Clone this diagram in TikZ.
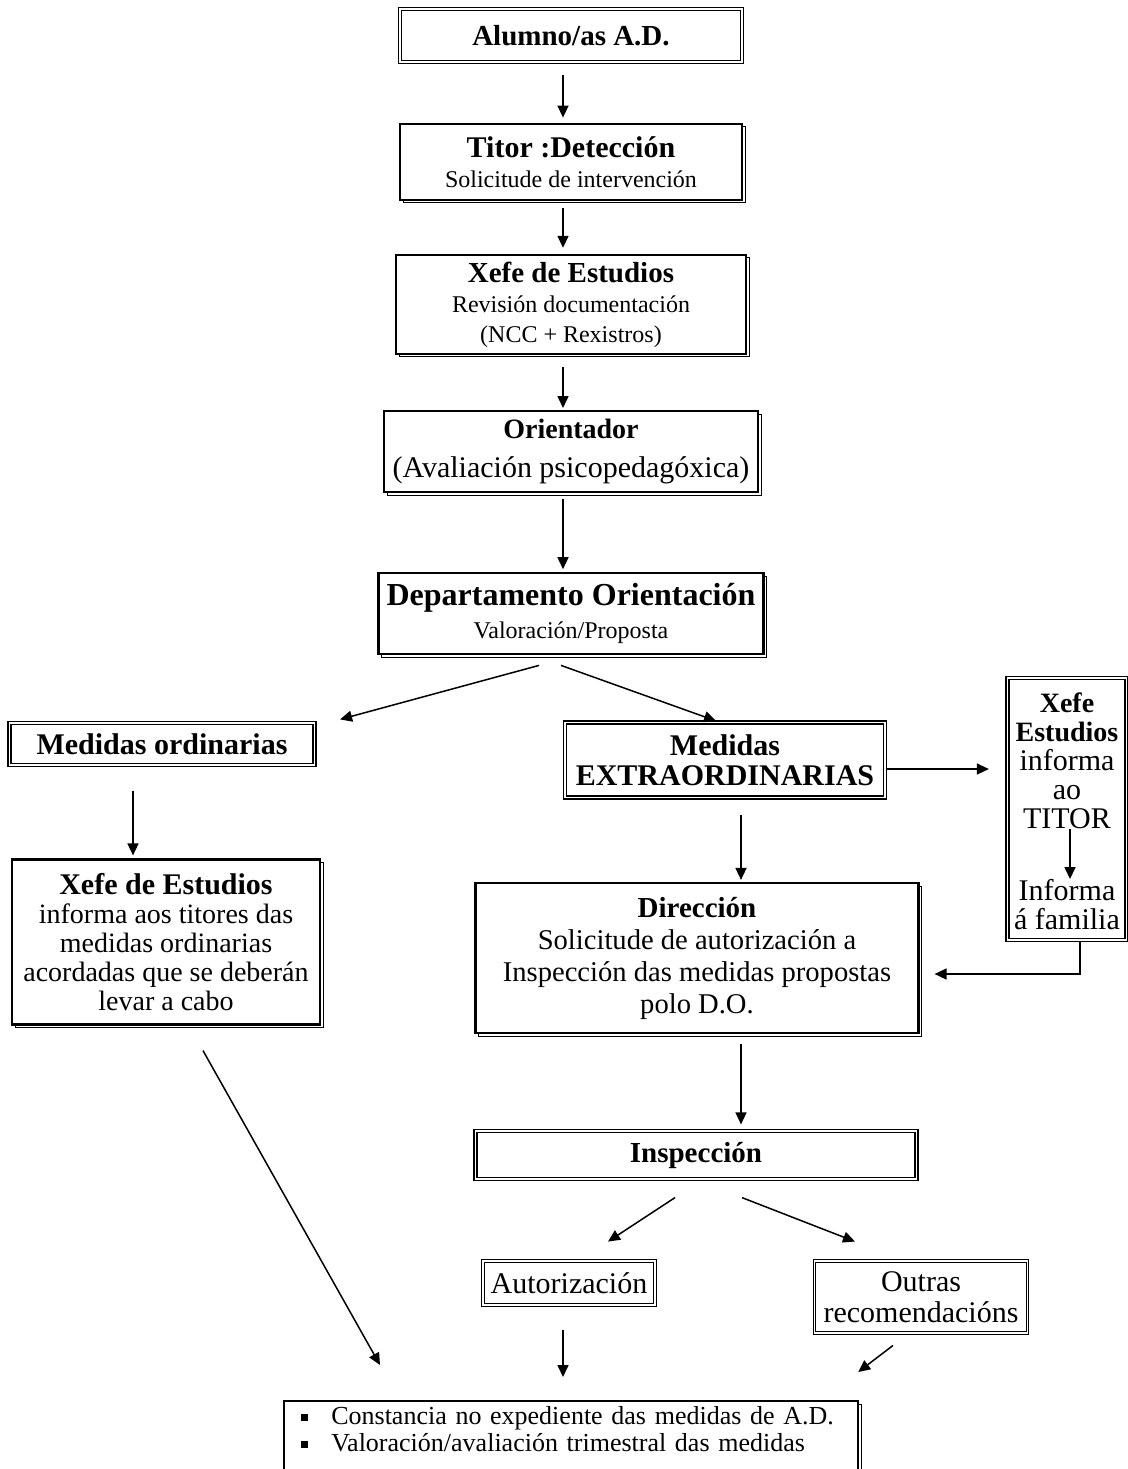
\documentclass[tikz,border=0pt]{standalone}
\usepackage{fontspec}
\setmainfont{Liberation Serif}
\usetikzlibrary{positioning, arrows.meta, calc}

\newcommand\titfont{\fontsize{14.5}{16}\selectfont\bfseries}
\newcommand\sqb{\rule[1.5pt]{3.6pt}{3.6pt}}

\begin{document}
\begin{tikzpicture}[
    x=0.5pt, y=-0.5pt,
    >={Triangle[length=6pt,width=5.5pt]},
    line width=0.75pt,
    box/.style={
        fill=white,
        align=center,
        inner sep=1pt,
        font=\fontsize{12}{15}\selectfont
    },
    dblbox/.style={box, draw, double, line width=0.6pt, double distance=0.9pt},
    thinbox/.style={box, draw, double, line width=0.45pt, double distance=0.8pt},
    shdbox/.style={box, draw, line width=1.1pt,
        preaction={draw, line width=0.5pt,
            transform canvas={shift={(1.5pt,-1.5pt)}}}},
    txt/.style={align=center, inner sep=0pt, font=\fontsize{15}{14.5}\selectfont}
]
    \useasboundingbox[fill=white] (0,0) rectangle (1128,1469);

    % Main column
    \node[dblbox, minimum width=171pt, minimum height=26.5pt, font=\titfont] (alumno) at (571,35.5) {Alumno/as A.D.};
    \node[shdbox, below=30pt of alumno, minimum width=171pt, minimum height=38pt] (titor)
        {{\fontsize{15}{16}\selectfont\bfseries Titor :Detección}\\Solicitude de intervención};
    \node[shdbox, below=26.5pt of titor, minimum width=175pt, minimum height=49.5pt] (xefe)
        {{\titfont Xefe de Estudios}\\Revisión documentación\\ (NCC + Rexistros)};
    \node[shdbox, below=27.5pt of xefe, minimum width=187pt, minimum height=40.5pt,
        font=\fontsize{15}{19.5}\selectfont] (orient)
        {{\fontsize{14}{16}\selectfont\bfseries Orientador}\\(Avaliación psicopedagóxica)};
    \node[shdbox, below=39.5pt of orient, minimum width=192.5pt, minimum height=40.5pt,
        font=\fontsize{12}{16.5}\selectfont] (depto)
        {{\fontsize{16}{17}\selectfont\bfseries Departamento Orientación}\\Valoración/Proposta};

    % Ordinary / extraordinary branches
    \node[dblbox, minimum width=152.5pt, minimum height=21pt,
        font=\fontsize{15}{17}\selectfont\bfseries] (ordin) at (162,744) {Medidas ordinarias};
    \node[dblbox, minimum width=160pt, minimum height=37.5pt,
        font=\fontsize{15}{15}\selectfont\bfseries] (extra) at (725,760) {Medidas\\EXTRAORDINARIAS};

    \node[dblbox, minimum width=59.5pt, minimum height=131pt] (xefeR) at (1067,809) {};
    \node[txt] (xR1) at (1067,760.5)
        {{\fontsize{14}{14.5}\selectfont\bfseries Xefe}\\{\fontsize{14}{14.5}\selectfont\bfseries Estudios}\\informa\\ao\\TITOR};
    \node[txt] (xR2) at (1067,905) {Informa\\á familia};

    \node[shdbox, minimum width=154pt, minimum height=82.5pt,
        font=\fontsize{14}{14.4}\selectfont] (xefeL) at (166,942)
        {{\fontsize{15}{16}\selectfont\bfseries Xefe de Estudios}\\informa aos titores das\\medidas ordinarias\\acordadas que se deberán\\levar a cabo};
    \node[shdbox, minimum width=221.5pt, minimum height=75pt,
        font=\fontsize{14.3}{16}\selectfont] (direc) at (697,958)
        {{\titfont Dirección}\\Solicitude de autorización a\\Inspección das medidas propostas\\polo D.O.};

    \node[dblbox, minimum width=220.5pt, minimum height=24pt, font=\titfont] (insp) at (696,1155) {Inspección};
    \node[thinbox, minimum width=86pt, minimum height=22pt,
        font=\fontsize{15}{15.5}\selectfont] (autor) at (569,1283) {Autorización};
    \node[thinbox, minimum width=106.5pt, minimum height=36pt,
        font=\fontsize{15}{15.5}\selectfont] (outras) at (921,1297) {Outras\\recomendacións};

    \node[shdbox, anchor=north west, inner xsep=8.5pt, inner ysep=2pt, text width=270pt, align=left,
        font=\fontsize{13}{13.5}\selectfont] (final) at (283,1400)
        {\begin{tabular}{@{}l@{\hspace{11.5pt}}l@{}}
            \sqb & Constancia no expediente das medidas de A.D.\\
            \sqb & Valoración/avaliación trimestral das medidas\\
            \rule{0pt}{20pt} &
        \end{tabular}};

    % Connectors
    \draw[->, shorten <=6pt, shorten >=2.5pt] ([xshift=-4pt]alumno.south) -- ([xshift=-4pt]titor.north);
    \draw[->, shorten <=3.5pt, shorten >=3pt] ([xshift=-4pt]titor.south) -- ([xshift=-4pt]xefe.north);
    \draw[->, shorten <=6pt, shorten >=1pt] ([xshift=-4pt]xefe.south) -- ([xshift=-4pt]orient.north);
    \draw[->, shorten <=3pt, shorten >=1.5pt] ([xshift=-4pt]orient.south) -- ([xshift=-4pt]depto.north);

    \draw[->] ($(depto.south)+(-32,10)$) -- ($(ordin.north east)+(25,-3)$);
    \draw[->] ($(depto.south)+(-10,10)$) -- ($(extra.north)+(-9,-1)$);

    \draw[->, shorten <=12.5pt, shorten >=1.5pt] ([xshift=-14.5pt]ordin.south) -- ([xshift=-14.5pt]ordin.south |- xefeL.north);
    \draw[->, shorten <=8.5pt, shorten >=1pt] ([xshift=8pt]extra.south) -- ([xshift=8pt]extra.south |- direc.north);
    \draw[->, shorten >=9pt] ([yshift=-4.5pt]extra.east) -- ([yshift=-4.5pt]extra.east -| xefeR.west);
    \draw[->] ([xshift=1.5pt]xR1.south) -- ([xshift=1.5pt]xR2.north);
    \draw[->] ([xshift=6.5pt]xefeR.south) |- ([xshift=7.5pt,yshift=-8pt]direc.east);

    \draw[->, shorten <=5pt, shorten >=3pt] ([xshift=22pt]direc.south) -- ([xshift=22pt]direc.south |- insp.north);
    \draw[->] ($(insp.south)+(-21,18)$) -- ($(autor.north)+(39,-19)$);
    \draw[->] ($(insp.south)+(46,18)$) -- ($(outras.north)+(-66,-19)$);

    \draw[->, shorten <=12.5pt, shorten >=11.5pt] ([xshift=-3pt]autor.south) -- ([xshift=-3pt]autor.south |- final.north);
    \draw[->] ($(outras.south)+(-28,12)$) -- ($(final.north east)+(-1,-28)$);
    \draw[->] ($(xefeL.south)+(37,25)$) -- ($(final.north west)+(97,-35)$);

\end{tikzpicture}
\end{document}
